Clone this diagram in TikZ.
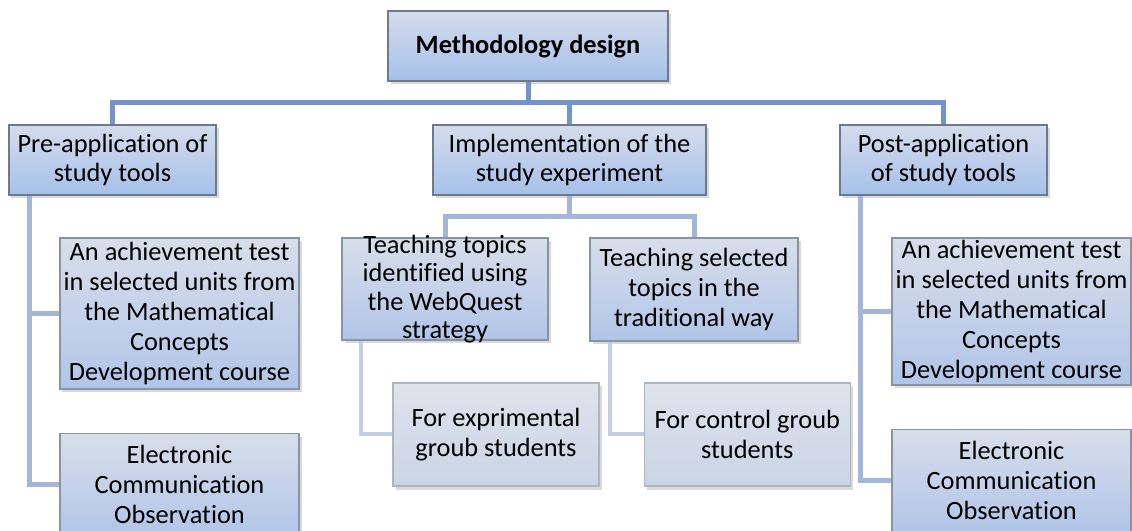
\documentclass[tikz,border=0pt]{standalone}
\usepackage{fontspec}
\setmainfont{Carlito}[Ligatures=CommonOff]
\usetikzlibrary{positioning,shadows}

\definecolor{topA}{HTML}{D4DCEC}
\definecolor{botA}{HTML}{A6C0EA}
\definecolor{edgeA}{HTML}{6D7A8C}
\definecolor{topB}{HTML}{D8DEEA}
\definecolor{botB}{HTML}{B1C5E8}
\definecolor{edgeB}{HTML}{8893A3}
\definecolor{topC}{HTML}{DFE3EB}
\definecolor{botC}{HTML}{CAD4E6}
\definecolor{edgeC}{HTML}{ADB5C2}
\definecolor{lineA}{HTML}{7394C9}
\definecolor{lineB}{HTML}{A3B6D8}
\definecolor{lineC}{HTML}{C3CEE2}

\begin{document}
\begin{tikzpicture}[x=0.2mm, y=-0.2mm, font=\fontsize{15pt}{17pt}\selectfont,
HEAD/.style={rectangle, draw=edgeA, line width=0.25mm, top color=topA, bottom color=botA, align=center, inner sep=0pt, drop shadow={shadow xshift=0.5mm, shadow yshift=-0.7mm, opacity=0.3}},
PART/.style={HEAD, draw=edgeB, top color=topB, bottom color=botB},
ITEM/.style={HEAD, draw=edgeC, top color=topC, bottom color=botC},
BUS/.style={draw=lineA, line width=1mm},
LINK/.style={draw=lineB, line width=1mm},
TWIG/.style={draw=lineC, line width=0.8mm},]
\useasboundingbox (0,0) rectangle (1132,531);
\clip (0,0) rectangle (1132,531);

%Nodes
\node[HEAD, minimum width=56mm, minimum height=14mm, font=\fontsize{15pt}{17pt}\selectfont\bfseries] (0) at (528,46) {Methodology design};
\node[HEAD, minimum width=41.4mm, minimum height=14mm] (1) at (112.5,160) {Pre-application of\\study tools};
\node[HEAD, minimum width=54.6mm, minimum height=14mm] (2) at (569.5,160) {Implementation of the\\study experiment};
\node[HEAD, minimum width=41.4mm, minimum height=14mm] (3) at (943.5,160) {Post-application\\of study tools};

\node[PART, minimum width=47.8mm, minimum height=30.2mm] (4) at (179.5,313.5) {An achievement test\\in selected units from\\the Mathematical\\Concepts\\Development course};
\node[PART, minimum width=47.8mm, minimum height=20.4mm, below=8.6mm of 4] (5) {Electronic\\Communication\\Observation};
\node[PART, minimum width=41.2mm, minimum height=20.4mm] (6) at (445,289) {};
\node[align=center, font=\fontsize{15pt}{16.2pt}\selectfont] (6t) at (6) {Teaching topics\\identified using\\the WebQuest\\strategy};
\node[PART, minimum width=41.6mm, minimum height=20.6mm] (7) at (694,289.5) {Teaching selected\\topics in the\\traditional way};
\node[ITEM, minimum width=41.2mm, minimum height=20.6mm] (8) at (496,434.5) {For exprimental\\groub students};
\node[ITEM, minimum width=41.2mm, minimum height=20.6mm, right=8.8mm of 8] (9) {For control groub\\students};
\node[PART, minimum width=47.8mm, minimum height=29.4mm] (10) at (1011.5,311.5) {An achievement test\\in selected units from\\the Mathematical\\Concepts\\Development course};
\node[PART, minimum width=47.8mm, minimum height=20.4mm, below=8.6mm of 10] (11) {Electronic\\Communication\\Observation};

%Lines
\coordinate (bus) at (0,103);
\coordinate (bus2) at (0,217);
\draw[BUS] (1.north) -- (1.north |- bus) -- (3.north |- bus) -- (3.north);
\draw[BUS] (0.south) -- (0.south |- bus);
\draw[BUS] (2.north) -- (2.north |- bus);

\draw[LINK] ([xshift=4.2mm]1.south west) |- (4.west);
\draw[LINK] ([xshift=4.2mm]1.south west) |- (5.west);
\draw[LINK] (6.north) -- (6.north |- bus2) -- (7.north |- bus2) -- (7.north);
\draw[LINK] (2.south) -- (2.south |- bus2);
\draw[LINK] ([xshift=4.2mm]3.south west) |- (10.west);
\draw[LINK] ([xshift=4.2mm]3.south west) |- (11.west);

\draw[TWIG] ([xshift=4mm]6.south west) |- (8.west);
\draw[TWIG] ([xshift=4.2mm]7.south west) |- (9.west);

\end{tikzpicture}
\end{document}
